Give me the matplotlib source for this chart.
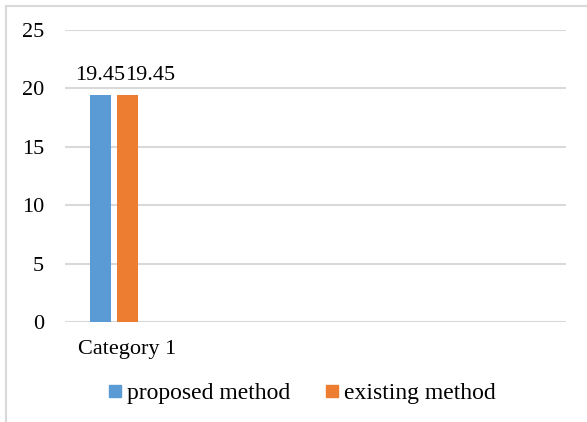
import numpy as np
import matplotlib.pyplot as plt
from matplotlib.lines import Line2D

##---- Data ----##
categories = ["Category 1", "", "", ""]
series_names = ["proposed method", "existing method"]
proposed = [19.45]
existing = [19.45]
y_ticks = [0, 5, 10, 15, 20, 25]

colors = ["#5B9BD5", "#ED7D31"]
plt.rcParams['font.family'] = ['Liberation Serif', 'DejaVu Serif']

fig = plt.figure(figsize=(5.87, 4.22), dpi=100)
ax = fig.add_axes([65 / 587, 100 / 422, 501 / 587, 292 / 422])

# 3 slots per category (third series is empty in the original)
bar_w = 0.168
offsets = [-0.22, 0.0, 0.22]

x = np.arange(len(categories))
for s, (vals, name) in enumerate(zip([proposed, existing], series_names)):
    xs = x[:len(vals)] + offsets[s]
    ax.bar(xs, vals, width=bar_w, color=colors[s], label=name, zorder=3)
    for xi, v in zip(xs, vals):
        if s == 0:
            ax.annotate("{:g}".format(v), (xi, v), xytext=(0, 7), textcoords='offset points',
                        ha='center', va='bottom', fontsize=16)
        else:
            ax.annotate("{:g}".format(v), (xi, v), xytext=(-1.5, 7), textcoords='offset points',
                        ha='left', va='bottom', fontsize=16)

ax.set_xlim(-0.5, len(categories) - 0.5)
ax.set_ylim(0, 25)
ax.set_yticks(y_ticks)
ax.set_xticks(x)
ax.set_xticklabels(categories)
ax.tick_params(axis='both', length=0, labelsize=16)
ax.tick_params(axis='y', pad=15)
ax.tick_params(axis='x', pad=13)
ax.grid(axis='y', color='#d9d9d9', linewidth=1.5, zorder=0)
for sp in ax.spines.values():
    sp.set_visible(False)

handles = [Line2D([], [], marker='s', linestyle='', markersize=8, color=c) for c in colors]
fig.legend(handles, series_names, loc='center', bbox_to_anchor=(0.512, 0.068), ncol=2,
           frameon=False, fontsize=17, handletextpad=0.1, columnspacing=1.4, handlelength=0.8)

# chart border (top and left only visible)
fig.add_artist(Line2D([6 / 587, 1], [1 - 6 / 422, 1 - 6 / 422], color='#d9d9d9', linewidth=1.5))
fig.add_artist(Line2D([6 / 587, 6 / 587], [0, 1 - 6 / 422], color='#d9d9d9', linewidth=1.5))

fig.savefig("out.png", dpi=100)
